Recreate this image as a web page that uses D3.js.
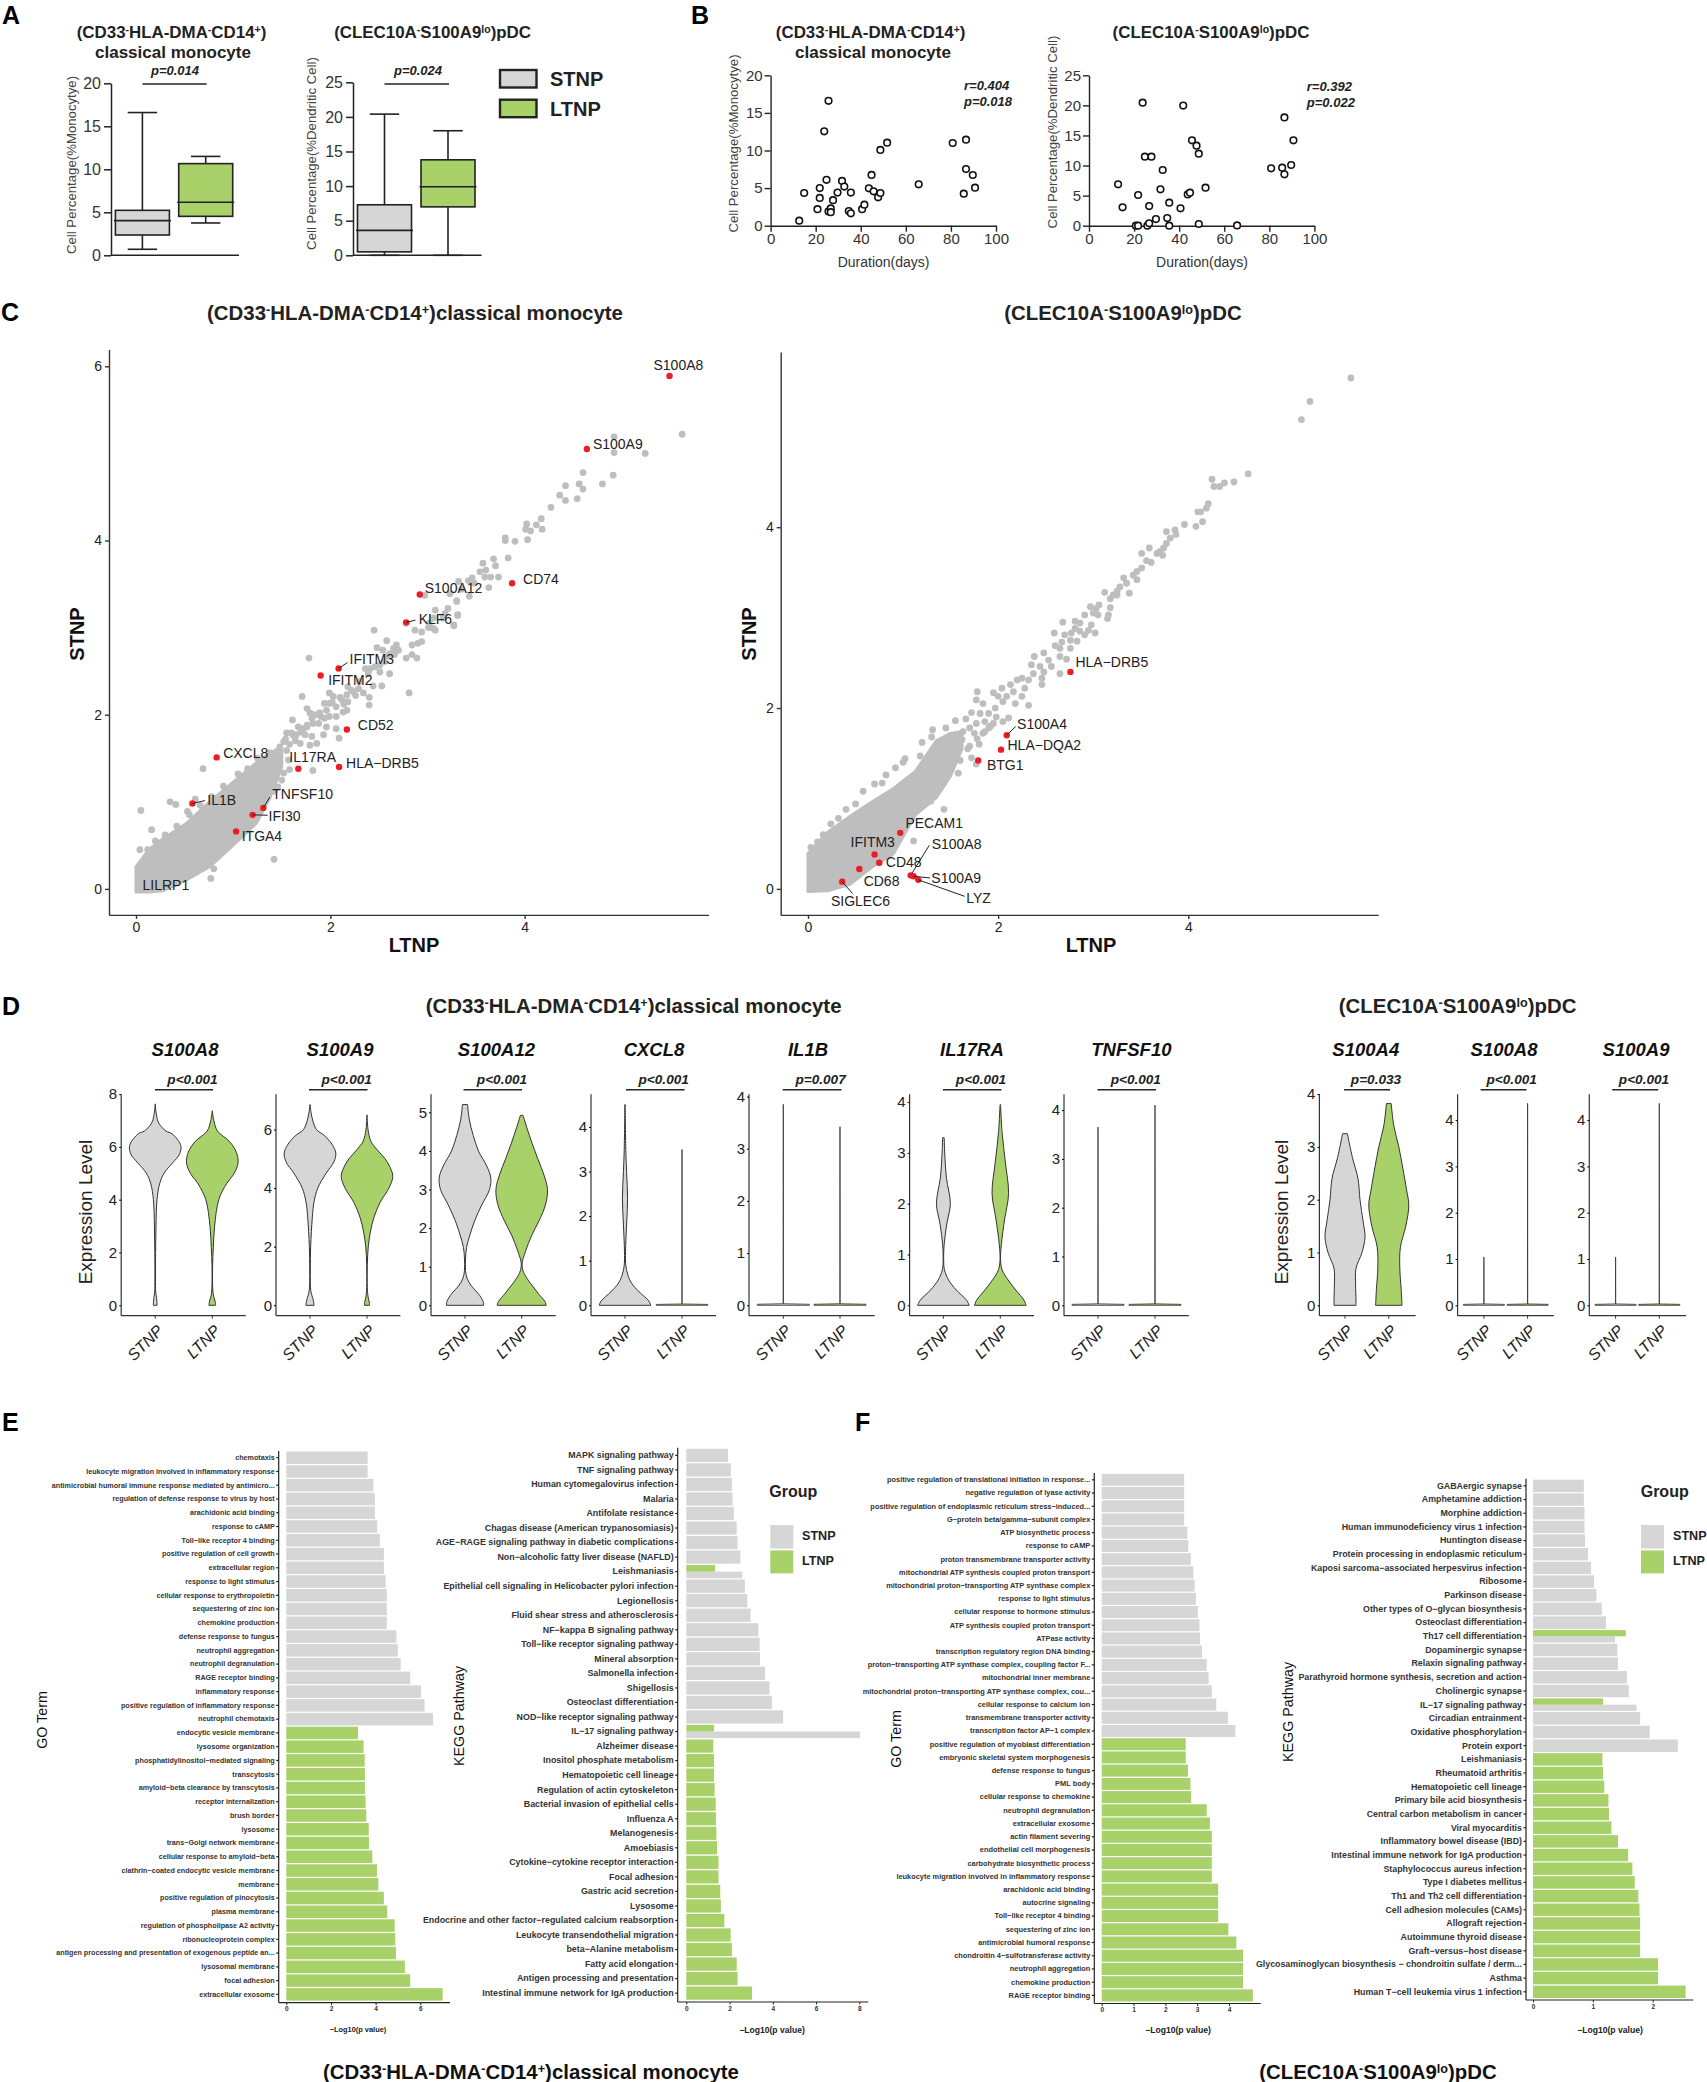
<!DOCTYPE html>
<html>
<head>
<meta charset="utf-8">
<title>Monocyte and pDC figure</title>
<script src="https://cdn.jsdelivr.net/npm/d3@7"></script>
<style>
  html, body { margin: 0; padding: 0; background: #fff; }
  svg { display: block; font-family: "Liberation Sans", Arial, sans-serif; }
</style>
</head>
<body>
<svg id="fig" width="1707" height="2082"></svg>
<script>
// ---------- data: panel A, box plots [low, q1, median, q3, high]
var boxMonoStnp = [0.7, 2.36, 4.03, 5.23, 16.6];
var boxMonoLtnp = [3.76, 4.53, 6.16, 10.66, 11.5];
var boxPdcStnp  = [0, 0.5, 3.6, 7.3, 20.4];
var boxPdcLtnp  = [0, 7.0, 9.9, 13.8, 18];

// ---------- data: panel B, duration vs percentage
var durMono = [12.7,14.9,21.8,21.8,20.8,24.8,23.8,25.7,25.7,26.7,26.7,27.7,29.7,31.7,32.7,34.7,35.6,35.6,40.6,41.6,43.6,44.8,45.7,47.7,48.7,48.7,51.7,65.7,80.8,85.7,86.7,86.7,89.7,90.7];
var pctMono = [0.67,4.35,5.0,3.7,2.2,6.1,12.55,16.6,1.9,2.3,1.8,3.4,4.4,5.95,5.2,1.95,1.65,4.4,2.2,2.8,4.97,6.75,4.57,3.77,4.35,10.07,11.04,5.5,11,4.26,11.44,7.54,6.74,5.05];
var durPdc = [12.9,14.9,20.8,21.8,21.8,23.8,24.8,25.9,26.7,26.7,27.7,29.7,31.7,32.7,34.7,35.6,35.6,40.6,41.8,43.8,44.8,45.7,47.7,48.7,48.7,51.7,65.7,80.8,85.7,86.7,86.7,89.7,90.7];
var pctPdc = [6.87,3.05,0,0,5.1,20.45,11.47,0,0.39,3.27,11.47,1.1,6.04,9.26,1.27,0,3.82,2.88,19.96,5.2,5.49,14.19,13.3,11.97,0.28,6.32,0.05,9.53,9.65,8.54,18,10.09,14.19];

// ---------- data: panel C, monocyte scatter (LTNP, STNP)
var monoLtnp = [5.62,4.92,4.92,5.24,4.60,4.91,4.80,4.42,4.56,4.60,4.36,4.42,4.54,4.27,4.17,4.02,4.01,4.06,4.12,4.18,3.80,3.80,3.90,4.03,3.83,3.57,3.68,3.70,3.60,3.54,3.59,3.65,3.73,3.63,3.46,3.42,3.48,3.32,3.23,3.35,3.43,3.30,3.08,3.18,3.31,3.27,3.06,3.01,
  2.45,2.78,2.87,2.94,3.02,3.08,3.16,3.21,3.30,3.31,3.27,3.06,2.97,2.84,2.90,2.94,2.58,2.48,2.68,2.70,2.65,2.61,2.66,2.58,2.54,2.78,2.84,2.89,2.81,1.78,2.36,2.41,2.46,2.51,2.56,2.61,2.51,2.39,2.44,2.53,2.34,2.40,2.40,2.29,2.24,2.18,2.17,2.12,2.18,2.06,1.99,2.03,1.99,1.94,1.96,1.89,1.84,1.81,1.76,1.79,1.71,2.06,2.13,2.17,1.99,1.94,1.88,1.82,1.76,1.61,1.67,1.60,1.55,1.65,1.74,1.81,1.93,1.96,2.06,2.09,1.82,1.52,1.48,1.45,1.38,1.55,1.69,1.79,1.86,1.57,1.48,1.45,1.40,1.34,1.28,1.52,1.50,1.46,
  0.69,0.05,0.16,0.35,0.41,0.61,0.53,1.42,0.77,0.80,0.93,1.58,1.40,0.04,
  0.12,0.2,0.3,0.42,0.55,0.66,0.78,0.9,1.05,1.15,1.25,0.5,0.62,0.7,0.8,0.92,1.0,1.1,1.2,1.3,1.42,
  1.54,1.62,1.72,1.58,1.64,1.70,1.76,1.90,2.02,2.10,2.22,2.30,2.14,2.26];
var monoStnp = [5.22,5.19,5.01,5.00,4.78,4.75,4.65,4.63,4.65,4.59,4.52,4.46,4.48,4.38,4.25,4.19,4.13,4.11,4.18,4.13,4.03,4.00,3.99,4.01,3.80,3.74,3.79,3.71,3.66,3.64,3.58,3.58,3.58,3.46,3.57,3.54,3.51,3.53,3.39,3.44,3.36,3.31,3.20,3.16,3.15,3.03,2.99,3.00,
  2.97,3.05,2.97,2.95,3.05,2.97,3.11,3.22,3.30,3.14,3.02,3.11,3.37,2.80,2.82,2.84,2.85,2.77,2.80,2.74,2.76,2.70,2.69,2.67,2.74,2.65,2.69,2.65,2.25,2.65,2.53,2.53,2.55,2.57,2.61,2.47,2.49,2.47,2.33,2.33,2.25,2.20,2.11,2.30,2.26,2.32,2.23,2.17,2.15,2.09,2.13,2.21,2.25,2.13,2.05,2.02,2.00,1.96,2.07,2.02,2.21,1.98,2.03,2.05,1.98,1.96,1.90,1.90,1.86,1.94,1.86,1.79,1.79,1.77,1.77,1.75,1.77,1.86,1.84,1.73,1.36,1.69,1.63,1.58,1.56,1.59,1.67,1.65,1.67,1.48,1.48,1.40,1.37,1.33,1.42,1.33,1.25,1.17,
  1.38,0.90,0.68,1.00,0.97,1.03,0.89,0.34,0.12,0.23,0.52,1.37,1.17,0.45,
  0.45,0.55,0.62,0.72,0.85,0.96,1.06,1.18,1.32,1.38,1.5,0.12,0.2,0.32,0.36,0.48,0.55,0.7,0.78,0.98,1.12,
  1.72,1.76,1.84,1.66,1.70,1.80,1.88,1.98,2.14,2.20,2.28,2.38,2.12,2.22];
// overplotted mass: [LTNP, STNP low, STNP high]
var monoDense = [[0,-0.035,0.254],[0.134,-0.035,0.453],[0.278,-0.02,0.577],[0.518,0.104,0.751],[0.757,0.254,1.0],[0.997,0.5,1.224],[1.237,0.751,1.448],[1.38,1.05,1.56],[1.5,1.4,1.62]];
var monoGenes = ["S100A8","S100A9","CD74","S100A12","KLF6","IFITM3","IFITM2","CD52","CXCL8","IL17RA","HLA−DRB5","IL1B","TNFSF10","IFI30","ITGA4"];
var monoGeneLtnp = [5.49,4.64,3.87,2.92,2.78,2.085,1.90,2.17,0.83,1.67,2.09,0.58,1.31,1.20,1.03];
var monoGeneStnp = [5.89,5.05,3.51,3.38,3.06,2.53,2.45,1.83,1.51,1.38,1.40,0.98,0.93,0.85,0.66];

// ---------- data: panel C, pDC scatter
var pdcLtnp = [5.71,5.28,5.19,4.63,4.25,4.27,4.33,4.38,4.48,4.21,4.19,4.13,4.15,
  4.10,4.08,3.96,3.86,3.87,3.77,3.81,3.77,3.74,3.70,3.67,3.59,3.51,3.73,3.56,3.61,3.51,3.46,3.42,3.46,3.32,3.35,3.28,3.25,3.38,3.12,3.25,3.18,3.21,3.18,3.06,3.03,2.97,3.00,2.91,2.81,2.86,3.16,3.15,3.05,2.68,2.59,2.98,2.95,3.02,2.91,2.86,2.81,2.77,2.70,2.83,2.76,2.67,2.60,2.76,2.65,2.65,2.72,2.65,2.48,2.53,2.38,2.35,2.44,2.56,2.48,2.37,2.46,2.46,2.32,2.25,2.20,2.13,2.28,2.16,2.25,2.04,1.95,1.78,1.77,1.84,2.00,2.09,2.05,2.32,2.18,1.97,1.90,1.81,2.11,2.05,1.95,1.86,1.77,1.70,1.63,
  1.31,1.0,0.78,1.43,1.11,1.29,1.18,1.77,1.58,1.45,0.03,1.72,1.80,1.68,1.75,1.60,
  0.1,0.16,0.24,0.32,0.4,0.5,0.58,0.7,0.82,0.92,1.02,1.2,1.3,1.45,1.55,
  1.66,1.72,1.84,1.90,1.98,1.62,1.70,1.78,1.86,1.92];
var pdcStnp = [5.65,5.39,5.19,4.59,4.53,4.45,4.45,4.49,4.50,4.26,4.21,4.17,4.06,
  4.17,4.01,4.03,3.97,3.92,3.95,3.88,3.82,3.77,3.73,3.71,3.77,3.71,3.69,3.63,3.61,3.55,3.51,3.47,3.42,3.44,3.38,3.34,3.29,3.27,3.28,3.25,3.21,3.25,3.11,3.14,3.10,3.12,3.05,3.03,2.96,2.94,3.03,2.99,3.03,2.95,2.83,2.92,2.86,2.83,2.81,2.85,2.88,2.83,2.81,2.74,2.75,2.73,2.69,2.66,2.66,2.57,2.54,2.38,2.61,2.53,2.57,2.48,2.46,2.46,2.40,2.38,2.33,2.26,2.31,2.33,2.31,2.26,2.22,2.18,2.13,2.22,2.17,2.18,2.09,2.05,2.13,2.13,2.07,2.03,2.05,2.00,1.94,1.94,1.89,1.85,1.83,1.85,1.83,1.78,1.74,
  1.76,1.40,1.17,0.88,0.53,0.97,1.47,1.38,1.28,1.25,0.46,1.45,1.60,1.55,1.72,1.42,
  0.52,0.6,0.72,0.78,0.88,0.94,1.08,1.16,1.26,1.34,1.44,1.62,1.68,1.78,1.86,
  1.88,1.95,1.72,1.78,1.90,1.65,1.58,1.66,1.74,1.80];
var pdcDense = [[0,-0.03,0.39],[0.21,-0.02,0.63],[0.44,0.05,0.80],[0.67,0.24,0.96],[0.90,0.39,1.11],[1.13,0.82,1.30],[1.35,1.01,1.64],[1.5,1.25,1.72],[1.62,1.55,1.74]];
var pdcGenes = ["HLA−DRB5","S100A4","HLA−DQA2","BTG1","PECAM1","IFITM3","CD48","CD68","SIGLEC6","S100A8","S100A9","LYZ"];
var pdcGeneLtnp = [2.76,2.09,2.03,1.79,0.97,0.70,0.75,0.54,0.36,1.08,1.11,1.16];
var pdcGeneStnp = [2.40,1.70,1.54,1.42,0.62,0.38,0.29,0.22,0.08,0.15,0.14,0.10];

// ---------- data: panel D, violin outlines [level, relative width]
var vS100A8S = [[0,.07],[.05,.07],[.3,.05],[.5,.02],[1,.012],[2,.015],[3,.03],[4,.07],[4.6,.17],[5,.34],[5.4,.68],[5.7,.93],[6,1],[6.2,.92],[6.5,.65],[6.6,.42],[6.9,.14],[7.2,.05],[7.63,0]];
var vS100A8L = [[0,.13],[.1,.12],[.4,.04],[.7,.015],[1.5,.012],[2.2,.04],[3,.09],[4,.25],[4.6,.55],[5,.85],[5.4,1],[5.8,.93],[6.2,.67],[6.6,.2],[7,.06],[7.37,0]];
var vS100A9S = [[0,.16],[.2,.12],[.5,.03],[1.2,.012],[2,.025],[3,.09],[3.5,.15],[4,.3],[4.5,.62],[4.9,.93],[5.2,1],[5.5,.85],[5.8,.55],[6,.25],[6.4,.08],[6.85,0]];
var vS100A9L = [[0,.1],[.1,.09],[.3,.04],[.6,.012],[1.4,.012],[2,.05],[2.5,.13],[3,.27],[3.5,.5],[4,.85],[4.4,1],[4.7,.9],[5,.7],[5.3,.4],[5.6,.15],[6,.04],[6.5,0]];
var vS100A12S = [[0,.72],[.1,.7],[.3,.52],[.5,.25],[.7,.08],[.9,.02],[1.2,.02],[1.5,.06],[1.8,.18],[2.2,.38],[2.6,.65],[3,.95],[3.3,1],[3.6,.85],[4,.52],[4.4,.32],[4.8,.17],[5.2,.1]];
var vS100A12L = [[0,.95],[.1,.9],[.3,.65],[.5,.42],[.7,.2],[.9,.05],[1.1,.02],[1.4,.15],[1.8,.38],[2.2,.68],[2.6,.92],[3,1],[3.4,.85],[3.8,.62],[4.2,.4],[4.6,.2],[4.92,.05]];
var vCxcl8S = [[0,1],[.1,.92],[.3,.55],[.5,.25],[.7,.1],[.9,.03],[1.2,.02],[1.8,.06],[2.4,.1],[3,.06],[3.5,.03],[4.5,.005]];
var vIl17raS = [[0,1],[.1,.9],[.3,.5],[.5,.2],[.7,.04],[.9,.01],[1.2,.03],[1.6,.13],[2,.27],[2.5,.12],[2.9,.06],[3.3,.03]];
var vIl17raL = [[0,1],[.1,.92],[.3,.6],[.5,.3],[.7,.07],[.9,.01],[1.2,.04],[1.7,.17],[2.2,.32],[2.8,.2],[3.4,.07],[3.95,.01]];
var vS100A4S = [[0,.55],[.1,.55],[.4,.53],[.7,.55],[1,.85],[1.3,1],[1.6,.9],[2,.75],[2.4,.65],[2.8,.37],[3.25,.12]];
var vS100A4L = [[0,.66],[.3,.62],[.7,.55],[1.1,.58],[1.5,.85],[1.9,1],[2.2,.88],[2.6,.7],[3,.5],[3.4,.25],[3.82,.12]];
// zero-inflated genes: only the top of the spike
var topCxcl8L = 3.49, topIl1bS = 3.85, topIl1bL = 3.42, topTnfS = 3.65, topTnfL = 4.1;
var topPdcA8S = 1.04, topPdcA8L = 4.36, topPdcA9S = 1.04, topPdcA9L = 4.36;

// ---------- data: panel E, GO terms
var eGoStnpTerms = ["chemotaxis","leukocyte migration involved in inflammatory response","antimicrobial humoral immune response mediated by antimicro...","regulation of defense response to virus by host","arachidonic acid binding","response to cAMP","Toll−like receptor 4 binding","positive regulation of cell growth","extracellular region","response to light stimulus","cellular response to erythropoietin","sequestering of zinc ion","chemokine production","defense response to fungus","neutrophil aggregation","neutrophil degranulation","RAGE receptor binding","inflammatory response","positive regulation of inflammatory response","neutrophil chemotaxis"];
var eGoStnpVals = [3.64,3.64,3.9,3.97,3.97,4.07,4.19,4.37,4.37,4.45,4.5,4.5,4.5,4.93,4.99,5.12,5.55,6.03,6.19,6.57];
var eGoLtnpTerms = ["endocytic vesicle membrane","lysosome organization","phosphatidylinositol−mediated signaling","transcytosis","amyloid−beta clearance by transcytosis","receptor internalization","brush border","lysosome","trans−Golgi network membrane","cellular response to amyloid−beta","clathrin−coated endocytic vesicle membrane","membrane","positive regulation of pinocytosis","plasma membrane","regulation of phospholipase A2 activity","ribonucleoprotein complex","antigen processing and presentation of exogenous peptide an...","lysosomal membrane","focal adhesion","extracellular exosome"];
var eGoLtnpVals = [3.21,3.46,3.51,3.52,3.52,3.55,3.58,3.69,3.70,3.85,4.06,4.12,4.37,4.52,4.85,4.88,4.91,5.31,5.55,7.0];

// ---------- data: panel E, KEGG
var eKeggStnpTerms = ["MAPK signaling pathway","TNF signaling pathway","Human cytomegalovirus infection","Malaria","Antifolate resistance","Chagas disease (American trypanosomiasis)","AGE−RAGE signaling pathway in diabetic complications","Non−alcoholic fatty liver disease (NAFLD)","Leishmaniasis","Epithelial cell signaling in Helicobacter pylori infection","Legionellosis","Fluid shear stress and atherosclerosis","NF−kappa B signaling pathway","Toll−like receptor signaling pathway","Mineral absorption","Salmonella infection","Shigellosis","Osteoclast differentiation","NOD−like receptor signaling pathway","IL−17 signaling pathway"];
var eKeggStnpVals = [1.93,2.06,2.11,2.14,2.2,2.33,2.37,2.5,2.59,2.71,2.82,2.97,3.33,3.39,3.41,3.64,3.85,3.96,4.48,8.03];
var eKeggLtnpTerms = ["Alzheimer disease","Inositol phosphate metabolism","Hematopoietic cell lineage","Regulation of actin cytoskeleton","Bacterial invasion of epithelial cells","Influenza A","Melanogenesis","Amoebiasis","Cytokine−cytokine receptor interaction","Focal adhesion","Gastric acid secretion","Lysosome","Endocrine and other factor−regulated calcium reabsorption","Leukocyte transendothelial migration","beta−Alanine metabolism","Fatty acid elongation","Antigen processing and presentation","Intestinal immune network for IgA production"];
var eKeggLtnpVals = [1.25,1.28,1.28,1.31,1.36,1.37,1.39,1.42,1.49,1.49,1.57,1.6,1.76,2.05,2.11,2.33,2.37,3.04];
var eKeggShared = [["Leishmaniasis",1.33],["IL−17 signaling pathway",1.28]];

// ---------- data: panel F, GO terms
var fGoStnpTerms = ["positive regulation of translational initiation in response...","negative regulation of lyase activity","positive regulation of endoplasmic reticulum stress−induced...","G−protein beta/gamma−subunit complex","ATP biosynthetic process","response to cAMP","proton transmembrane transporter activity","mitochondrial ATP synthesis coupled proton transport","mitochondrial proton−transporting ATP synthase complex","response to light stimulus","cellular response to hormone stimulus","ATP synthesis coupled proton transport","ATPase activity","transcription regulatory region DNA binding","proton−transporting ATP synthase complex, coupling factor F...","mitochondrial inner membrane","mitochondrial proton−transporting ATP synthase complex, cou...","cellular response to calcium ion","transmembrane transporter activity","transcription factor AP−1 complex"];
var fGoStnpVals = [2.59,2.59,2.59,2.59,2.69,2.72,2.8,2.88,2.92,2.96,3.02,3.07,3.09,3.15,3.3,3.36,3.46,3.6,3.97,4.2];
var fGoLtnpTerms = ["positive regulation of myoblast differentiation","embryonic skeletal system morphogenesis","defense response to fungus","PML body","cellular response to chemokine","neutrophil degranulation","extracellular exosome","actin filament severing","endothelial cell morphogenesis","carbohydrate biosynthetic process","leukocyte migration involved in inflammatory response","arachidonic acid binding","autocrine signaling","Toll−like receptor 4 binding","sequestering of zinc ion","antimicrobial humoral response","chondroitin 4−sulfotransferase activity","neutrophil aggregation","chemokine production","RAGE receptor binding"];
var fGoLtnpVals = [2.64,2.64,2.71,2.79,2.81,3.3,3.4,3.46,3.46,3.46,3.46,3.66,3.66,3.66,3.98,4.23,4.44,4.44,4.44,4.75];

// ---------- data: panel F, KEGG
var fKeggStnpTerms = ["GABAergic synapse","Amphetamine addiction","Morphine addiction","Human immunodeficiency virus 1 infection","Huntington disease","Protein processing in endoplasmic reticulum","Kaposi sarcoma−associated herpesvirus infection","Ribosome","Parkinson disease","Other types of O−glycan biosynthesis","Osteoclast differentiation","Th17 cell differentiation","Dopaminergic synapse","Relaxin signaling pathway","Parathyroid hormone synthesis, secretion and action","Cholinergic synapse","IL−17 signaling pathway","Circadian entrainment","Oxidative phosphorylation","Protein export"];
var fKeggStnpVals = [.85,.85,.86,.86,.87,.92,.97,1.02,1.06,1.15,1.22,1.37,1.41,1.42,1.57,1.6,1.73,1.79,1.95,2.42];
var fKeggLtnpTerms = ["Leishmaniasis","Rheumatoid arthritis","Hematopoietic cell lineage","Primary bile acid biosynthesis","Central carbon metabolism in cancer","Viral myocarditis","Inflammatory bowel disease (IBD)","Intestinal immune network for IgA production","Staphylococcus aureus infection","Type I diabetes mellitus","Th1 and Th2 cell differentiation","Cell adhesion molecules (CAMs)","Allograft rejection","Autoimmune thyroid disease","Graft−versus−host disease","Glycosaminoglycan biosynthesis − chondroitin sulfate / derm...","Asthma","Human T−cell leukemia virus 1 infection"];
var fKeggLtnpVals = [1.16,1.17,1.19,1.26,1.27,1.31,1.42,1.59,1.66,1.7,1.76,1.78,1.79,1.79,1.79,2.09,2.09,2.55];
var fKeggShared = [["Th17 cell differentiation",1.55],["IL−17 signaling pathway",1.17]];

// ---------- drawing
var GRAY = "#d6d6d6", GREEN = "#a9d169", INK = "#222";
var intFmt = d3.format("d");
var svg = d3.select("#fig");

function txt(x, y, str, size, o) {
  o = o || {};
  var t = svg.append("text").attr("x", x).attr("y", y).attr("dy", "0.35em")
    .style("font-size", size + "px").style("fill", o.fill || "#111")
    .style("text-anchor", o.anchor || "middle");
  if (o.bold) t.style("font-weight", "bold");
  if (o.italic) t.style("font-style", "italic");
  if (o.rot !== undefined) t.attr("transform", "rotate(" + o.rot + "," + x + "," + y + ")");
  if (typeof str === "string") t.text(str);
  else str.forEach(function(s) {   // [text, 1] is a superscript
    var ts = t.append("tspan").text(s[0]);
    if (s[1]) { ts.attr("dy", "-0.45em").style("font-size", "62%"); }
    else if (s.after) { ts.attr("dy", "0.28em"); }
  });
  return t;
}
// superscript runs followed by normal runs need the baseline restored
var monoTitle = [["(CD33"],["-",1],Object.assign(["HLA-DMA"],{after:1}),["-",1],Object.assign(["CD14"],{after:1}),["+",1],Object.assign([")"],{after:1})];
var monoTitleLine = monoTitle.slice(0,-1).concat([Object.assign([")classical monocyte"],{after:1})]);
var pdcTitle = [["(CLEC10A"],["-",1],Object.assign(["S100A9"],{after:1}),["lo",1],Object.assign([")pDC"],{after:1})];

// scale from two tick positions, stretched to the full axis length
function lin(v0, p0, v1, p1, pa, pb) {
  var s = d3.scaleLinear().domain([v0, v1]).range([p0, p1]);
  return d3.scaleLinear().domain([s.invert(pa), s.invert(pb)]).range([pa, pb]);
}
function styleAxis(g, w, col) {
  g.selectAll(".domain").attr("stroke", col || INK).attr("stroke-width", w);
  g.selectAll(".tick line").attr("stroke", col || INK).attr("stroke-width", w);
  g.selectAll("text").style("font-family", "inherit");
}
function axisL(x, scale, ticks, size, tick, pad, w, col, fill) {
  var g = svg.append("g").attr("transform", "translate(" + x + ",0)")
    .call(d3.axisLeft(scale).tickValues(ticks).tickFormat(intFmt).tickSize(tick).tickSizeOuter(0).tickPadding(pad));
  styleAxis(g, w, col);
  g.selectAll("text").style("font-size", size + "px").style("fill", fill || "#222");
  return g;
}
function axisB(y, scale, ticks, size, tick, pad, w, col, fill) {
  var g = svg.append("g").attr("transform", "translate(0," + y + ")")
    .call(d3.axisBottom(scale).tickValues(ticks).tickFormat(intFmt).tickSize(tick).tickSizeOuter(0).tickPadding(pad));
  styleAxis(g, w, col);
  g.selectAll("text").style("font-size", size + "px").style("fill", fill || "#222");
  return g;
}

// panel letters
[["A",2,15],["B",691,15],["C",1,312],["D",2,1006],["E",2,1422],["F",855,1422]].forEach(function(d) {
  txt(d[1], d[2], d[0], 25, {bold: true, anchor: "start", fill: "#000"});
});

// ---------- A: box plots
function boxPanel(cfg) {
  var y = d3.scaleLinear().domain([0, cfg.ymax]).range([255.3, cfg.top]);
  axisL(cfg.x, y, cfg.ticks, 16, 7, 3, 1.5, INK, "#333");
  svg.append("line").attr("x1", cfg.x).attr("x2", cfg.right).attr("y1", 255.3).attr("y2", 255.3)
    .attr("stroke", INK).attr("stroke-width", 1.5);
  [[cfg.c1, cfg.s, GRAY], [cfg.c2, cfg.l, GREEN]].forEach(function(b) {
    var c = b[0], v = b[1], hw = 27, cap = 14.7;
    var g = svg.append("g").attr("stroke", INK).attr("stroke-width", 1.6);
    g.append("line").attr("x1", c).attr("x2", c).attr("y1", y(v[0])).attr("y2", y(v[4]));
    g.append("line").attr("x1", c - cap).attr("x2", c + cap).attr("y1", y(v[4])).attr("y2", y(v[4]));
    g.append("line").attr("x1", c - cap).attr("x2", c + cap).attr("y1", y(v[0])).attr("y2", y(v[0]));
    g.append("rect").attr("x", c - hw).attr("width", hw * 2).attr("y", y(v[3])).attr("height", y(v[1]) - y(v[3]))
      .attr("fill", b[2]);
    g.append("line").attr("x1", c - hw - 1.5).attr("x2", c + hw + 1.5).attr("y1", y(v[2])).attr("y2", y(v[2]));
  });
  svg.append("line").attr("x1", cfg.c1).attr("x2", cfg.c2 + 1).attr("y1", 84).attr("y2", 84).attr("stroke", INK).attr("stroke-width", 1.5);
  txt(cfg.pc, 70, cfg.p, 13, {bold: true, italic: true, fill: "#222"});
  txt(cfg.lx, cfg.ly, cfg.label, 13.2, {rot: -90, fill: "#444"});
}
boxPanel({x: 111, right: 239, top: 83.3, ymax: 20, ticks: [0,5,10,15,20], c1: 142.4, c2: 205.7, s: boxMonoStnp, l: boxMonoLtnp,
  p: "p=0.014", pc: 175, lx: 71, ly: 165, label: "Cell Percentage(%Monocytye)"});
boxPanel({x: 353, right: 481.6, top: 82.3, ymax: 25, ticks: [0,5,10,15,20,25], c1: 384.5, c2: 448, s: boxPdcStnp, l: boxPdcLtnp,
  p: "p=0.024", pc: 418, lx: 311, ly: 153.5, label: "Cell Percentage(%Dendritic Cell)"});
txt(171.5, 32, monoTitle, 16.9, {bold: true, fill: "#222"});
txt(173, 52, "classical monocyte", 17, {bold: true, fill: "#222"});
txt(432.6, 32, pdcTitle, 16.9, {bold: true, fill: "#222"});
[["STNP", 70, GRAY], ["LTNP", 99.7, GREEN]].forEach(function(d) {
  svg.append("rect").attr("x", 500).attr("y", d[1]).attr("width", 36.5).attr("height", 17.5)
    .attr("fill", d[2]).attr("stroke", INK).attr("stroke-width", 2.4);
  txt(550, d[1] + 9, d[0], 20, {bold: true, anchor: "start", fill: "#222"});
});

// ---------- B: scatter
function corrPanel(cfg) {
  var x = d3.scaleLinear().domain([0, 100]).range([cfg.x0, cfg.x1]);
  var y = d3.scaleLinear().domain([0, cfg.ymax]).range([225.7, 75.3]);
  axisL(cfg.x0, y, cfg.yt, 15, 6, 2, 1.4, INK, "#333");
  axisB(225.7, x, [0,20,40,60,80,100], 15, 6, 2, 1.4, INK, "#333");
  svg.append("g").selectAll("circle").data(cfg.xs).enter().append("circle")
    .attr("cx", function(d) { return x(d); })
    .attr("cy", function(d, i) { return y(cfg.ys[i]); })
    .attr("r", 3.3).attr("fill", "#fff").attr("stroke", "#111").attr("stroke-width", 1.6);
  txt(cfg.tx, cfg.ty, cfg.r, 13, {bold: true, italic: true, anchor: "start", fill: "#222"});
  txt(cfg.tx, cfg.ty + 16, cfg.p, 13, {bold: true, italic: true, anchor: "start", fill: "#222"});
  txt(cfg.lx, cfg.ly, cfg.label, 13.2, {rot: -90, fill: "#444"});
  txt(cfg.dx, 261.7, "Duration(days)", 14, {fill: "#333"});
}
corrPanel({x0: 770.6, x1: 996, ymax: 20, yt: [0,5,10,15,20], xs: durMono, ys: pctMono, r: "r=0.404", p: "p=0.018", tx: 964, ty: 85,
  lx: 733.6, ly: 143.5, dx: 883.6, label: "Cell Percentage(%Monocytye)"});
corrPanel({x0: 1089, x1: 1314.4, ymax: 25, yt: [0,5,10,15,20,25], xs: durPdc, ys: pctPdc, r: "r=0.392", p: "p=0.022", tx: 1306.8, ty: 86.7,
  lx: 1052.8, ly: 132, dx: 1202, label: "Cell Percentage(%Dendritic Cell)"});
txt(870.6, 32, monoTitle, 16.9, {bold: true, fill: "#222"});
txt(873, 52, "classical monocyte", 17, {bold: true, fill: "#222"});
txt(1211, 32, pdcTitle, 16.9, {bold: true, fill: "#222"});

// ---------- C: expression scatter
// label offsets in px from the gene's point: [dx, dy] and optional leader end
var monoOffsets = {"S100A8":[-16,-11],"S100A9":[6,-5],"CD74":[11,-4],"S100A12":[5,-6],"KLF6":[12.5,-3.5,9.3,-2.2],"IFITM3":[11,-9,8.8,-6],"IFITM2":[7.5,4.3],"CD52":[11,-4],"CXCL8":[6.5,-4.3],"IL17RA":[-9,-12],"HLA−DRB5":[7,-4.3],"IL1B":[15,-3.5,12.6,-3],"TNFSF10":[9,-13.4,6.5,-10.8],"IFI30":[16,1,15,.4],"ITGA4":[5.6,5]};
var pdcOffsets = {"HLA−DRB5":[5,-9.5],"S100A4":[10.4,-10.8,9,-8.7],"HLA−DQA2":[6.5,-4.3],"BTG1":[8.7,4.8],"PECAM1":[5.2,-10],"IFITM3":[-24,-12.6],"CD48":[6.5,-1],"CD68":[4.3,12],"SIGLEC6":[-11.3,19.5,10.4,12],"S100A8":[21,-31,18.6,-30],"S100A9":[17.8,2,16.5,1.7],"LYZ":[48,18,46.4,16.5]};

function geneScatter(cfg) {
  var x = lin(0, cfg.x0, 4, cfg.x4, cfg.left, cfg.right);
  var y = lin(0, 888.9, cfg.yv, cfg.yp, 914.9, cfg.top);
  axisL(cfg.left, y, cfg.yt, 14, 4, 3, 1.4, "#333", "#222");
  axisB(914.9, x, [0,2,4], 14, 4, 3, 1.4, "#333", "#222");
  var area = d3.area().x(function(d) { return x(d[0]); })
    .y0(function(d) { return y(d[1]); }).y1(function(d) { return y(d[2]); });
  svg.append("path").attr("d", area(cfg.dense)).attr("fill", "#bebebe").attr("stroke", "#bebebe")
    .attr("stroke-width", 3).attr("stroke-linejoin", "round");
  svg.append("g").selectAll("circle").data(cfg.lx).enter().append("circle")
    .attr("cx", function(d) { return x(d); })
    .attr("cy", function(d, i) { return y(cfg.ly[i]); })
    .attr("r", 3.4).attr("fill", "#bebebe");
  cfg.genes.forEach(function(g, i) {
    var px = x(cfg.gx[i]), py = y(cfg.gy[i]), o = cfg.off[g];
    svg.append("circle").attr("cx", px).attr("cy", py).attr("r", 3.2).attr("fill", "#ee1c25");
    if (o.length > 2) svg.append("line").attr("x1", px).attr("y1", py).attr("x2", px + o[2]).attr("y2", py + o[3])
      .attr("stroke", "#222").attr("stroke-width", 1);
    txt(px + o[0], py + o[1], g, 14, {anchor: "start", fill: "#222"});
  });
  txt(cfg.xlab, 945, "LTNP", 20, {bold: true, fill: "#111"});
  txt(cfg.ylab, 634, "STNP", 20, {bold: true, rot: -90, fill: "#111"});
  return {x: x, y: y};
}
var cMono = geneScatter({x0: 136, x4: 524.7, left: 109, right: 708.6, top: 349.4, yv: 6, yp: 366.3, yt: [0,2,4,6],
  dense: monoDense, lx: monoLtnp, ly: monoStnp, genes: monoGenes, gx: monoGeneLtnp, gy: monoGeneStnp, off: monoOffsets, xlab: 414, ylab: 77});
txt(cMono.x(0.067), cMono.y(0.045), "LILRP1", 14, {anchor: "start", fill: "#222"});
geneScatter({x0: 808, x4: 1188.3, left: 780.7, right: 1378.3, top: 352, yv: 4, yp: 527.2, yt: [0,2,4],
  dense: pdcDense, lx: pdcLtnp, ly: pdcStnp, genes: pdcGenes, gx: pdcGeneLtnp, gy: pdcGeneStnp, off: pdcOffsets, xlab: 1091, ylab: 749});
txt(415, 312.5, monoTitleLine, 20.4, {bold: true, fill: "#222"});
txt(1123, 312.5, pdcTitle, 20.4, {bold: true, fill: "#222"});

// ---------- D: violins
function spike(top) { return [[0,1],[0.02,1],[0.03,0.006],[top,0.003]]; }
function violinPanel(c) {
  var y0 = 1305.3, top = 1094.3;
  var y = d3.scaleLinear().domain([0, (y0 - top) / c.unit]).range([y0, top]);
  var bottom = 1315.7;
  svg.append("line").attr("x1", c.x).attr("x2", c.x).attr("y1", top).attr("y2", bottom).attr("stroke", "#333").attr("stroke-width", 1.2);
  svg.append("line").attr("x1", c.x).attr("x2", c.right).attr("y1", bottom).attr("y2", bottom).attr("stroke", "#333").attr("stroke-width", 1.3);
  var g = svg.append("g").attr("transform", "translate(" + c.x + ",0)")
    .call(d3.axisLeft(y).tickValues(c.ticks).tickFormat(intFmt).tickSize(2).tickPadding(2));
  g.select(".domain").remove();
  g.selectAll("text").style("font-family", "inherit").style("font-size", "15px").style("fill", "#222");
  [[c.c1, c.s, GRAY, "STNP"], [c.c2, c.l, GREEN, "LTNP"]].forEach(function(v) {
    var cx = v[0], thin = v[1].length === 4;
    var a = d3.area().y(function(d) { return y(d[0]); })
      .x0(function(d) { return cx - c.hw * d[1]; }).x1(function(d) { return cx + c.hw * d[1]; })
      .curve(thin ? d3.curveLinear : d3.curveCatmullRom.alpha(0.5));
    svg.append("path").attr("d", a(v[1])).attr("fill", v[2])
      .attr("stroke", "#333").attr("stroke-width", thin ? 0.8 : 1);
    svg.append("line").attr("x1", cx).attr("x2", cx).attr("y1", bottom).attr("y2", bottom + 3).attr("stroke", "#333");
    txt(cx + 5, bottom + 12, v[3], 16, {italic: true, anchor: "end", rot: -45, fill: "#222"});
  });
  txt(c.tc, 1050, c.gene, 18.5, {bold: true, italic: true, fill: "#111"});
  txt(c.pc, 1079.3, c.p, 13.6, {bold: true, italic: true, fill: "#222"});
  svg.append("line").attr("x1", c.l1).attr("x2", c.l2).attr("y1", 1089.7).attr("y2", 1089.7).attr("stroke", "#222").attr("stroke-width", 1.6);
}
[
  {gene:"S100A8", p:"p<0.001", x:121.2, right:245.7, c1:155.2, c2:212.3, unit:26.4, ticks:[0,2,4,6,8], hw:25.8, s:vS100A8S, l:vS100A8L, tc:185, pc:192.5, l1:155, l2:213},
  {gene:"S100A9", p:"p<0.001", x:276, right:400.4, c1:310, c2:367, unit:29.3, ticks:[0,2,4,6], hw:25.8, s:vS100A9S, l:vS100A9L, tc:340, pc:346.7, l1:309, l2:367.5},
  {gene:"S100A12", p:"p<0.001", x:431, right:555.7, c1:465, c2:521.7, unit:38.6, ticks:[0,1,2,3,4,5], hw:25.8, s:vS100A12S, l:vS100A12L, tc:496.4, pc:502, l1:463.5, l2:522},
  {gene:"CXCL8", p:"p<0.001", x:591, right:716, c1:625, c2:682, unit:44.6, ticks:[0,1,2,3,4], hw:25.8, s:vCxcl8S, l:spike(topCxcl8L), tc:654, pc:663.7, l1:626, l2:684.6},
  {gene:"IL1B", p:"p=0.007", x:749, right:874.6, c1:783.3, c2:840, unit:52.2, ticks:[0,1,2,3,4], hw:26, s:spike(topIl1bS), l:spike(topIl1bL), tc:808, pc:820.6, l1:782.8, l2:841.5},
  {gene:"IL17RA", p:"p<0.001", x:909.6, right:1034, c1:943.4, c2:1000.3, unit:50.8, ticks:[0,1,2,3,4], hw:25.8, s:vIl17raS, l:vIl17raL, tc:971.9, pc:981, l1:943, l2:1001.4},
  {gene:"TNFSF10", p:"p<0.001", x:1064, right:1188.8, c1:1098, c2:1155, unit:48.8, ticks:[0,1,2,3,4], hw:26, s:spike(topTnfS), l:spike(topTnfL), tc:1131.4, pc:1135.8, l1:1097.5, l2:1156},
  {gene:"S100A4", p:"p=0.033", x:1319.4, right:1415.6, c1:1345, c2:1388.8, unit:52.8, ticks:[0,1,2,3,4], hw:20, s:vS100A4S, l:vS100A4L, tc:1365.8, pc:1376, l1:1344, l2:1390},
  {gene:"S100A8", p:"p<0.001", x:1457.6, right:1553.8, c1:1483.9, c2:1527.6, unit:46.3, ticks:[0,1,2,3,4], hw:20.5, s:spike(topPdcA8S), l:spike(topPdcA8L), tc:1504, pc:1511.7, l1:1480.6, l2:1526.5},
  {gene:"S100A9", p:"p<0.001", x:1589.3, right:1686, c1:1615.6, c2:1659.3, unit:46.3, ticks:[0,1,2,3,4], hw:20.5, s:spike(topPdcA9S), l:spike(topPdcA9L), tc:1636, pc:1644, l1:1612.3, l2:1658.2}
].forEach(violinPanel);
txt(85, 1212, "Expression Level", 19, {rot: -90, fill: "#222"});
txt(1281.7, 1212, "Expression Level", 19, {rot: -90, fill: "#222"});
txt(633.6, 1005.7, monoTitleLine, 20.4, {bold: true, fill: "#222"});
txt(1457.6, 1005.7, pdcTitle, 20.4, {bold: true, fill: "#222"});

// ---------- E, F: enrichment bars
function barPanel(c) {
  var terms = c.sTerms.concat(c.lTerms);
  var shared = {};
  (c.shared || []).forEach(function(d) { shared[d[0]] = d[1]; });
  var y = d3.scaleBand().domain(terms).range([c.first - c.step / 2, c.first + c.step * (terms.length - 0.5)]).paddingInner(0.09);
  var x = lin(0, c.x0, c.tv, c.xt, c.axis, c.right);
  var rows = c.sTerms.map(function(t, i) { return {t: t, v: c.sVals[i], col: GRAY}; })
    .concat(c.lTerms.map(function(t, i) { return {t: t, v: c.lVals[i], col: GREEN}; }));
  svg.append("g").selectAll("rect").data(rows).enter().append("rect")
    .attr("x", x(0))
    .attr("y", function(d) { return shared[d.t] !== undefined ? y(d.t) + y.bandwidth() / 2 : y(d.t); })
    .attr("width", function(d) { return x(d.v) - x(0); })
    .attr("height", function(d) { return shared[d.t] !== undefined ? y.bandwidth() / 2 : y.bandwidth(); })
    .attr("fill", function(d) { return d.col; });
  svg.append("g").selectAll("rect").data(c.shared || []).enter().append("rect")
    .attr("x", x(0)).attr("y", function(d) { return y(d[0]); })
    .attr("width", function(d) { return x(d[1]) - x(0); })
    .attr("height", y.bandwidth() / 2).attr("fill", GREEN);
  var gy = svg.append("g").attr("transform", "translate(" + c.axis + ",0)")
    .call(d3.axisLeft(y).tickSize(2.5).tickPadding(1.5));
  styleAxis(gy, 1.2, "#222");
  gy.select(".domain").attr("d", "M0," + c.top + "V" + c.bottom);
  gy.selectAll("text").style("font-size", c.font + "px").style("font-weight", "bold").style("fill", "#333");
  svg.append("line").attr("x1", c.axis).attr("x2", c.right).attr("y1", c.bottom).attr("y2", c.bottom).attr("stroke", "#222").attr("stroke-width", 1.2);
  var ticks = d3.range(0, c.tmax + 1, c.tv / c.tn);
  var gx = svg.append("g").attr("transform", "translate(0," + c.bottom + ")")
    .call(d3.axisBottom(x).tickValues(ticks).tickFormat(intFmt).tickSize(2.5).tickPadding(1.5));
  styleAxis(gx, 1, "#222");
  gx.select(".domain").remove();
  gx.selectAll("text").style("font-size", "6.5px").style("font-weight", "bold").style("fill", "#333");
  txt(c.xlx, 2029.6, "−Log10(p value)", c.xfont, {bold: true, fill: "#222"});
  txt(c.ylx, c.yly, c.ylabel, 14.3, {rot: -90, fill: "#111"});
}
barPanel({sTerms: eGoStnpTerms, sVals: eGoStnpVals, lTerms: eGoLtnpTerms, lVals: eGoLtnpVals, first: 1458.3, step: 13.73,
  axis: 278.7, right: 450, top: 1451, bottom: 2002.6, x0: 286.3, tv: 6, xt: 420.3, tn: 3, tmax: 6, font: 7.2, xfont: 7.4, xlx: 358, ylx: 41.7, yly: 1720, ylabel: "GO Term"});
barPanel({sTerms: eKeggStnpTerms, sVals: eKeggStnpVals, lTerms: eKeggLtnpTerms, lVals: eKeggLtnpVals, shared: eKeggShared, first: 1456, step: 14.5,
  axis: 677.7, right: 868.3, top: 1447.8, bottom: 2002, x0: 686.3, tv: 8, xt: 859.3, tn: 4, tmax: 8, font: 8.9, xfont: 8.6, xlx: 772, ylx: 459.3, yly: 1716, ylabel: "KEGG Pathway"});
barPanel({sTerms: fGoStnpTerms, sVals: fGoStnpVals, lTerms: fGoLtnpTerms, lVals: fGoLtnpVals, first: 1480.4, step: 13.19,
  axis: 1094.3, right: 1260.7, top: 1473, bottom: 2003.5, x0: 1101.7, tv: 4, xt: 1229, tn: 4, tmax: 4, font: 7.4, xfont: 8.6, xlx: 1178, ylx: 895.7, yly: 1739, ylabel: "GO Term"});
barPanel({sTerms: fKeggStnpTerms, sVals: fKeggStnpVals, lTerms: fKeggLtnpTerms, lVals: fKeggLtnpVals, shared: fKeggShared, first: 1486.5, step: 13.64,
  axis: 1526, right: 1693.3, top: 1478.7, bottom: 2000, x0: 1533, tv: 2, xt: 1652.7, tn: 2, tmax: 2, font: 8.85, xfont: 8.6, xlx: 1610, ylx: 1288, yly: 1712, ylabel: "KEGG Pathway"});

[[769.3, 770.3, 802], [1640.7, 1641, 1673]].forEach(function(p) {
  txt(p[0], 1491.5, "Group", 16, {bold: true, anchor: "start", fill: "#222"});
  svg.append("rect").attr("x", p[1]).attr("y", 1525).attr("width", 23).attr("height", 23.5).attr("fill", GRAY);
  svg.append("rect").attr("x", p[1]).attr("y", 1550.4).attr("width", 23).attr("height", 23).attr("fill", GREEN);
  txt(p[2], 1536, "STNP", 12.6, {bold: true, anchor: "start", fill: "#222"});
  txt(p[2], 1561, "LTNP", 12.6, {bold: true, anchor: "start", fill: "#222"});
});
txt(531, 2071.7, monoTitleLine, 20.4, {bold: true, fill: "#111"});
txt(1378, 2071.7, pdcTitle, 20.4, {bold: true, fill: "#111"});
</script>
</body>
</html>
